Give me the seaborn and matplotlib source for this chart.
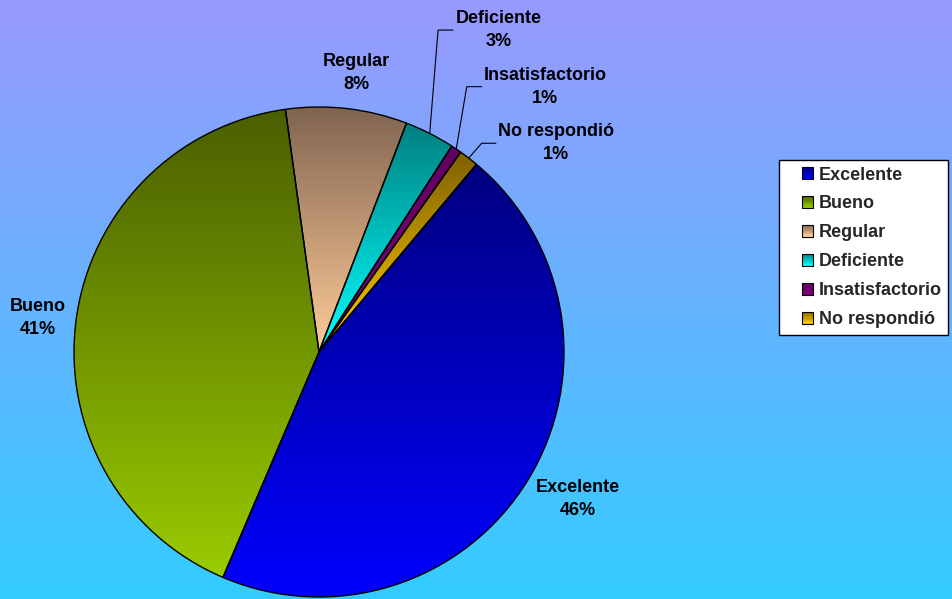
import numpy as np
import matplotlib
matplotlib.use("Agg")
import matplotlib.pyplot as plt
import seaborn as sns
from matplotlib.colors import to_rgb
from matplotlib.patches import Rectangle
from matplotlib.legend_handler import HandlerBase
from matplotlib.font_manager import FontProperties

# ---------------- data ----------------
categories = ["Excelente", "Bueno", "Regular", "Deficiente", "Insatisfactorio", "No respondió"]
shares = [45.3, 41.4, 8.0, 3.3, 0.7, 1.3]          # slice sizes as drawn
pct_labels = ["46%", "41%", "8%", "3%", "1%", "1%"]  # printed labels

# ---------------- styles ----------------
top_colors = ["#000080", "#4A5E00", "#806450", "#008080", "#600060", "#806000"]
bottom_colors = ["#0000FF", "#99CC00", "#FFCC99", "#00FFFF", "#800080", "#FFCC00"]
label_pos = [(1.057, -0.600), (-1.146, 0.139), (0.154, 1.140),
             (0.735, 1.314), (0.922, 1.083), (0.967, 0.852)]
leader = {3: (0.486, 0.547), 4: (0.603, 0.664), 5: (0.664, 0.722)}

sns.set_theme(style="white")
plt.rcParams["font.family"] = ["Liberation Sans", "DejaVu Sans"]

W, H = 953, 599
fig = plt.figure(figsize=(W / 100, H / 100), dpi=100)

# background gradient
bg = fig.add_axes([0, 0, 1, 1])
bg.axis("off")
t = np.linspace(0, 1, 256)[:, None, None]
c0 = np.array(to_rgb("#9999FF"))
c1 = np.array(to_rgb("#33CCFF"))
bg.imshow(c0 * (1 - t) + c1 * t, aspect="auto", extent=(0, 1, 0, 1), origin="upper")
bg.set_xlim(0, 1)
bg.set_ylim(0, 1)

# pie
cx, cy, R = 319, 352, 245
ax = fig.add_axes([(cx - R) / W, (H - cy - R) / H, 2 * R / W, 2 * R / H])
ax.patch.set_alpha(0)
wedges, _ = ax.pie(shares, startangle=50, counterclock=False, radius=1,
                   wedgeprops=dict(edgecolor="black", linewidth=1.0))
for w, ct, cb in zip(wedges, top_colors, bottom_colors):
    ext = w.get_path().get_extents()
    a = np.array(to_rgb(ct))
    b = np.array(to_rgb(cb))
    g = a * (1 - t) + b * t
    im = ax.imshow(g, extent=(ext.x0, ext.x1, ext.y0, ext.y1), origin="upper",
                   aspect="auto", interpolation="bilinear", zorder=1)
    im.set_clip_path(w)
    w.set_facecolor("none")
    w.set_zorder(2)
    w.set_clip_on(False)
ax.set_xlim(-1, 1)
ax.set_ylim(-1, 1)
ax.axis("off")

# labels
for i, (cat, pct) in enumerate(zip(categories, pct_labels)):
    lx, ly = label_pos[i]
    ax.text(lx, ly, f"{cat}\n{pct}", ha="center", va="center", fontsize=13,
            fontweight="bold", color="black", linespacing=1.45, zorder=5)

# leader lines
for i, (ex, endx) in leader.items():
    w = wedges[i]
    th = np.deg2rad((w.theta1 + w.theta2) / 2)
    sx, sy = np.cos(th), np.sin(th)
    ly = label_pos[i][1]
    ax.plot([sx, ex, endx], [sy, ly, ly], color="black", lw=0.8, clip_on=False, zorder=4)


# legend with gradient squares
class GradientSquare(HandlerBase):
    def __init__(self, ct, cb):
        super().__init__()
        self.ct = np.array(to_rgb(ct))
        self.cb = np.array(to_rgb(cb))

    def create_artists(self, legend, orig_handle, xdescent, ydescent, width, height, fontsize, trans):
        s = 0.65 * fontsize
        x0 = -xdescent + width - s
        y0 = -ydescent + (height - s) / 2
        n = 10
        arts = []
        for k in range(n):
            f = (k + 0.5) / n
            col = self.ct * (1 - f) + self.cb * f
            r = Rectangle((x0, y0 + s * (n - 1 - k) / n), s, s / n + 0.2,
                          facecolor=col, edgecolor="none", transform=trans)
            arts.append(r)
        arts.append(Rectangle((x0, y0), s, s, facecolor="none", edgecolor="black",
                              lw=0.8, transform=trans))
        return arts


handles = [Rectangle((0, 0), 1, 1) for _ in categories]
hmap = {h: GradientSquare(ct, cb) for h, ct, cb in zip(handles, top_colors, bottom_colors)}
fp = FontProperties(family=["Liberation Sans", "DejaVu Sans"], weight="bold", size=13)
leg = fig.legend(handles, categories, handler_map=hmap, loc="upper left",
                 bbox_to_anchor=(779 / W, 1 - 160 / H), bbox_transform=fig.transFigure,
                 borderaxespad=0, frameon=True, fancybox=False, edgecolor="black",
                 facecolor="white", framealpha=1, prop=fp,
                 handlelength=1.55, handleheight=0.7, handletextpad=0.28,
                 labelspacing=0.66, borderpad=0.36)
for txt in leg.get_texts():
    txt.set_fontweight("bold")
leg.get_frame().set_linewidth(1.0)

fig.savefig("out.png", dpi=100)
